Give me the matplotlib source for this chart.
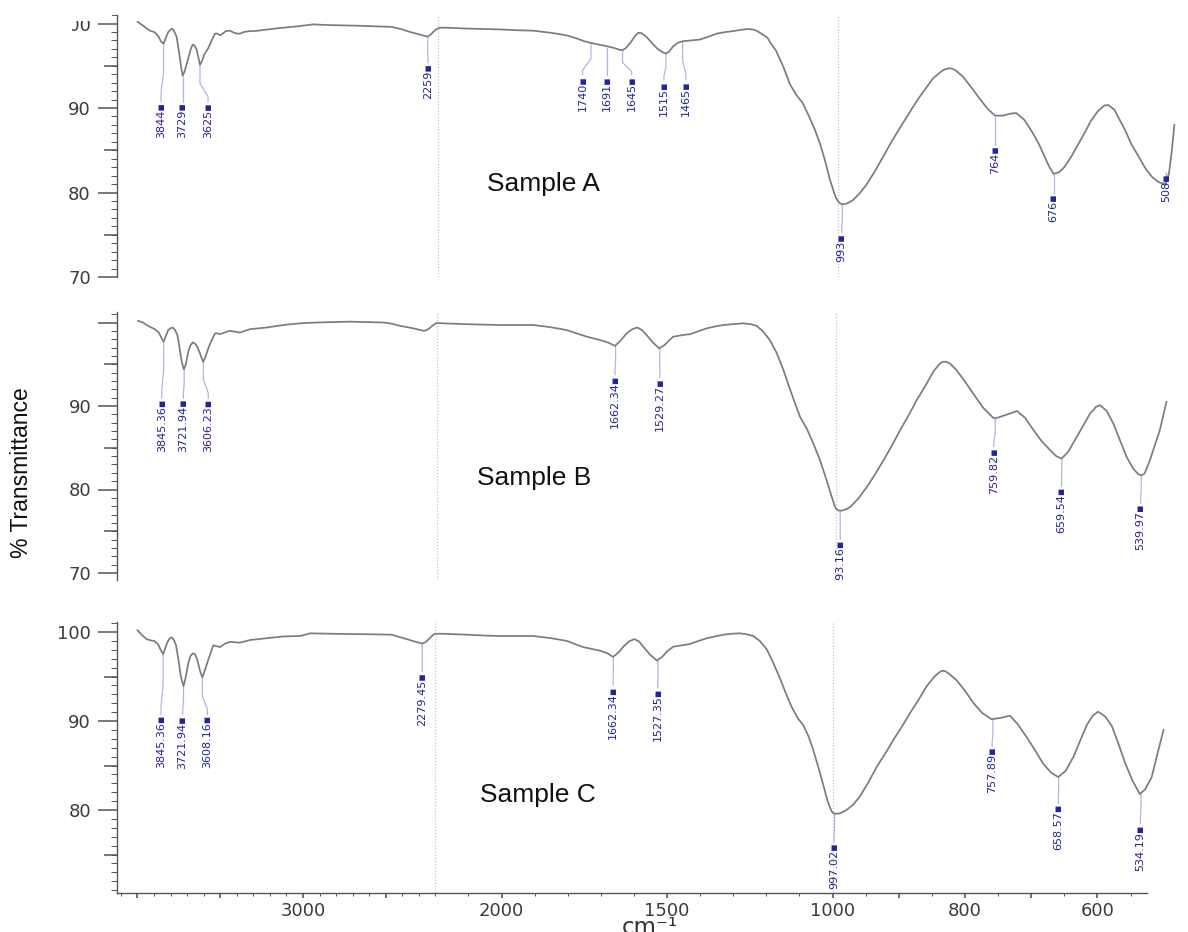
import numpy as np
import matplotlib
matplotlib.use("Agg")
import matplotlib.pyplot as plt
from matplotlib.ticker import FixedLocator, FixedFormatter, MultipleLocator, NullFormatter
from matplotlib.patches import Rectangle

# ---------------- spectra (wavenumber cm-1, %T) ----------------
wn_a = [4000, 3970, 3945, 3920, 3900, 3875, 3860, 3844, 3830, 3815, 3800, 3791, 3778, 3765,
        3750, 3738, 3729, 3718, 3705, 3695, 3680, 3669, 3658, 3645, 3635, 3625, 3612, 3600,
        3588, 3575, 3555, 3535, 3520, 3505, 3490, 3470, 3445, 3420, 3400, 3385, 3360, 3325,
        3300, 3260, 3225, 3175, 3125, 3075, 3025, 2985, 2945, 2900, 2825, 2700, 2625, 2550,
        2475, 2420, 2365, 2310, 2280, 2259, 2240, 2226, 2210, 2193, 2170, 2113, 2060, 2013,
        1960, 1913, 1860, 1813, 1780, 1760, 1740, 1715, 1691, 1670, 1655, 1645, 1635, 1620,
        1608, 1598, 1588, 1573, 1555, 1540, 1525, 1515, 1505, 1493, 1480, 1465, 1440, 1413,
        1390, 1363, 1335, 1313, 1290, 1270, 1255, 1243, 1225, 1210, 1203, 1185, 1163, 1143,
        1123, 1105, 1088, 1070, 1053, 1038, 1023, 1010, 1003, 997, 993, 988, 982, 977, 967,
        957, 945, 932, 920, 907, 895, 882, 870, 857, 845, 840, 834, 828, 823, 812, 800, 787,
        775, 764, 752, 740, 732, 720, 707, 698, 690, 683, 676, 668, 660, 650, 640, 630, 620,
        610, 600, 594, 585, 577, 569, 560, 549, 538, 528, 518, 508, 503, 499, 495]
tr_a = [100.2, 99.8, 99.4, 99.1, 99.0, 98.5, 97.9, 97.6, 98.3, 99.0, 99.3, 99.4, 99.0, 98.4,
        96.5, 94.8, 93.8, 94.3, 95.2, 95.9, 97.0, 97.5, 97.4, 96.9, 96.0, 95.1, 95.6, 96.3,
        96.7, 97.1, 98.0, 98.8, 98.8, 98.6, 98.8, 99.1, 99.15, 98.9, 98.8, 98.8, 99.0, 99.1,
        99.1, 99.2, 99.3, 99.4, 99.5, 99.6, 99.7, 99.8, 99.9, 99.85, 99.8, 99.75, 99.7, 99.65,
        99.6, 99.35, 99.0, 98.7, 98.55, 98.45, 98.7, 99.0, 99.3, 99.5, 99.5, 99.4, 99.35, 99.3,
        99.2, 99.15, 98.9, 98.6, 98.2, 97.9, 97.7, 97.5, 97.3, 97.1, 96.9, 96.85, 97.1, 97.8,
        98.5, 98.9, 98.85, 98.4, 97.6, 97.0, 96.6, 96.45, 96.7, 97.3, 97.7, 97.9, 98.0, 98.1,
        98.4, 98.8, 99.0, 99.1, 99.25, 99.35, 99.3, 99.15, 98.7, 98.3, 97.8, 96.8, 94.9, 92.8,
        91.5, 90.6, 89.2, 87.6, 85.8, 83.8, 81.5, 79.9, 79.2, 78.75, 78.6, 78.65, 78.85, 79.1, 79.9,
        80.9, 82.4, 84.2, 85.9, 87.6, 89.1, 90.75, 92.1, 93.5, 94.3, 94.55, 94.7, 94.65, 94.45, 93.7, 92.5, 91.1,
        89.9, 89.1, 89.1, 89.35, 89.4, 88.6, 87.0, 85.7, 84.3, 83.1, 82.2, 82.4, 83.0, 84.2, 85.6, 87.0, 88.5,
        89.6, 90.3, 90.35, 89.8, 88.6, 87.4, 85.8, 84.3, 82.8, 81.8, 81.2, 81.0, 82.3, 84.8, 88.0]

wn_b = [4000, 3970, 3948, 3920, 3898, 3875, 3860, 3846, 3832, 3818, 3805, 3791, 3777, 3763,
        3750, 3738, 3724, 3712, 3697, 3684, 3671, 3658, 3643, 3625, 3608, 3595, 3577, 3556,
        3536, 3520, 3506, 3480, 3446, 3415, 3386, 3355, 3326, 3275, 3225, 3175, 3125, 3075,
        3025, 2924, 2824, 2724, 2623, 2523, 2470, 2423, 2380, 2343, 2300, 2278, 2260, 2240,
        2222, 2202, 2181, 2111, 2060, 2010, 1960, 1910, 1860, 1810, 1780, 1749, 1709, 1685,
        1664, 1648, 1629, 1612, 1597, 1583, 1569, 1550, 1531, 1515, 1500, 1489, 1460, 1438,
        1410, 1388, 1360, 1338, 1310, 1278, 1255, 1238, 1220, 1198, 1178, 1157, 1140, 1122,
        1107, 1087, 1067, 1047, 1027, 1017, 1005, 1000, 996, 993, 989, 984, 978, 966, 953,
        940, 928, 915, 903, 890, 878, 865, 853, 845, 841, 838, 834, 828, 818, 806, 793, 778,
        763, 760, 745, 727, 715, 702, 690, 677, 668, 660, 650, 637, 627, 617, 608, 602, 592,
        582, 572, 562, 552, 544, 540, 535, 527, 520, 512, 502]
tr_b = [100.2, 100.0, 99.7, 99.4, 99.2, 98.8, 98.2, 97.7, 98.4, 99.1, 99.3, 99.4, 99.1, 98.5,
        97.0, 95.4, 94.4, 95.0, 96.5, 97.3, 97.6, 97.5, 97.1, 96.2, 95.3, 95.8, 96.9, 97.9,
        98.7, 98.7, 98.6, 98.8, 99.0, 98.9, 98.8, 99.0, 99.2, 99.3, 99.4, 99.55, 99.7, 99.8,
        99.9, 100.0, 100.05, 100.1, 100.05, 100.0, 99.85, 99.6, 99.45, 99.3, 99.1, 99.0, 99.1, 99.4,
        99.7, 99.95, 99.9, 99.8, 99.75, 99.7, 99.7, 99.7, 99.45, 99.1, 98.7, 98.3, 97.9, 97.6,
        97.2, 97.8, 98.7, 99.2, 99.4, 99.1, 98.5, 97.6, 96.9, 97.3, 97.9, 98.3, 98.5, 98.6,
        99.0, 99.3, 99.55, 99.7, 99.8, 99.9, 99.8, 99.6, 99.0, 97.9, 96.4, 94.3, 92.3, 90.3,
        88.7, 87.3, 85.5, 83.5, 81.1, 79.8, 78.3, 77.75, 77.5, 77.45, 77.5, 77.65, 77.9, 78.9, 80.3,
        81.9, 83.5, 85.3, 87.1, 88.9, 90.7, 92.4, 94.1, 94.9, 95.2, 95.3, 95.3, 95.1, 94.3, 93.0, 91.5, 89.8,
        88.6, 88.5, 88.9, 89.4, 88.6, 87.1, 85.8, 84.7, 84.0, 83.7, 84.5, 86.3, 87.7, 89.1, 89.9, 90.1, 89.4,
        87.9, 85.9, 83.9, 82.5, 81.8, 81.7, 81.9, 83.5, 85.2, 87.1, 90.5]

wn_c = [4000, 3970, 3944, 3920, 3900, 3875, 3860, 3845, 3832, 3818, 3805, 3793, 3780, 3767,
        3752, 3738, 3722, 3710, 3693, 3680, 3666, 3652, 3639, 3622, 3608, 3595, 3572, 3555,
        3542, 3520, 3502, 3470, 3441, 3410, 3381, 3350, 3320, 3270, 3219, 3170, 3119, 3070,
        3018, 2985, 2958, 2900, 2817, 2715, 2615, 2540, 2464, 2420, 2373, 2330, 2300, 2280,
        2260, 2240, 2213, 2202, 2176, 2105, 2050, 2005, 1950, 1904, 1850, 1803, 1775, 1753,
        1703, 1680, 1663, 1647, 1632, 1615, 1599, 1585, 1572, 1550, 1531, 1515, 1498, 1481,
        1455, 1431, 1405, 1380, 1355, 1330, 1305, 1280, 1260, 1240, 1220, 1199, 1180, 1159,
        1140, 1124, 1105, 1089, 1073, 1058, 1043, 1028, 1015, 1008, 1003, 999, 997, 993, 989,
        984, 979, 969, 959, 946, 933, 920, 908, 895, 883, 870, 858, 846, 840, 835, 830, 824,
        813, 800, 787, 774, 760, 746, 732, 720, 707, 694, 682, 670, 659, 648, 636, 626, 616,
        607, 599, 588, 578, 568, 558, 547, 536, 528, 518, 508, 500]
tr_c = [100.2, 99.6, 99.2, 99.05, 99.0, 98.6, 98.0, 97.5, 98.2, 98.9, 99.3, 99.4, 99.1, 98.5,
        96.8, 95.0, 93.9, 94.8, 96.5, 97.3, 97.6, 97.5, 96.9, 95.6, 94.9, 95.6, 96.9, 97.8,
        98.5, 98.4, 98.3, 98.7, 98.9, 98.85, 98.8, 98.95, 99.1, 99.2, 99.3, 99.4, 99.5, 99.52,
        99.55, 99.7, 99.85, 99.83, 99.8, 99.78, 99.75, 99.72, 99.7, 99.45, 99.2, 98.95, 98.8, 98.7,
        98.85, 99.2, 99.7, 99.8, 99.8, 99.7, 99.6, 99.55, 99.55, 99.55, 99.3, 99.0, 98.6, 98.3,
        97.9, 97.6, 97.2, 97.7, 98.35, 98.95, 99.2, 98.95, 98.35, 97.4, 96.8, 97.2, 97.9, 98.35,
        98.5, 98.65, 99.0, 99.3, 99.5, 99.7, 99.8, 99.85, 99.75, 99.55, 99.0, 98.05, 96.6, 94.8,
        93.0, 91.6, 90.3, 89.55, 88.3, 86.7, 84.8, 82.8, 81.0, 80.3, 79.85, 79.65, 79.6, 79.58, 79.62,
        79.8, 80.0, 80.6, 81.5, 83.1, 84.9, 86.4, 87.9, 89.4, 90.9, 92.4, 93.9, 95.0, 95.4, 95.65, 95.6, 95.3,
        94.6, 93.4, 92.0, 90.9, 90.2, 90.35, 90.6, 89.6, 88.2, 86.7, 85.2, 84.2, 83.7, 84.4, 86.0, 87.8, 89.55,
        90.6, 91.05, 90.5, 89.4, 87.4, 85.25, 83.3, 81.8, 82.3, 83.7, 86.7, 89.0]

# ---------------- peak labels ----------------
peaks_a = ["3844", "3729", "3625", "2259", "1740", "1691", "1645", "1515", "1465",
           "993", "764", "676", "508"]
peaks_b = ["3845.36", "3721.94", "3606.23", "1662.34", "1529.27", "993.16",
           "759.82", "659.54", "539.97"]
peaks_c = ["3845.36", "3721.94", "3608.16", "2279.45", "1662.34", "1527.35",
           "997.02", "757.89", "658.57", "534.19"]

samples = ["Sample A", "Sample B", "Sample C"]

# where each peak label sits: (wavenumber of label centre, %T of label top)
place_a = [(3859, 90.7), (3729, 90.7), (3577, 90.7), (2257, 95.3), (1765, 93.9),
           (1691, 93.9), (1618, 93.9), (1521, 93.3), (1455, 93.3), (994, 75.2),
           (764, 85.6), (676, 79.9), (507, 82.3)]
place_b = [(3857, 90.9), (3727, 90.9), (3577, 90.9), (1664, 93.7), (1529, 93.4),
           (993, 74.0), (762, 85.1), (660, 80.3), (541, 78.3)]
place_c = [(3858, 90.67), (3727, 90.67), (3578, 90.67), (2279, 95.5), (1663, 94.0),
           (1528, 93.7), (998, 76.4), (759, 87.1), (659, 80.7), (535, 78.4)]

# ---------------- x scale: 1x above 2200, 2x to 1000, 4x below ----------------
WP = np.array([0.0, 1000.0, 2200.0, 20000.0])
VP = np.array([0.0, 4000.0, 6400.0, 24200.0])


def fwd(w):
    return np.interp(np.asarray(w, dtype=float), WP, VP)


def inv(v):
    return np.interp(np.asarray(v, dtype=float), VP, WP)


W, H = 1188, 932
XL, XR = 4124, 480

fig = plt.figure(figsize=(W / 100, H / 100), dpi=100)
fig.patch.set_facecolor("white")

# panel geometry in pixels: x of 4000, px per scaled unit, top, bottom, y of 90, px per %T
geo = [
    dict(x0=137.5, k=0.1667, top=15, bot=277, y90=108, s=8.45),
    dict(x0=138.0, k=0.1661, top=312, bot=580, y90=406, s=8.35),
    dict(x0=137.5, k=0.1655, top=622, bot=893, y90=721, s=8.9),
]
label_pos = [(543.3, 190.7), (534.2, 485.0), (538.3, 802.3)]
ytick_sets = [([70, 80, 90, 100], ["70", "80", "90", "100"]),
              ([70, 80, 90, 100], ["70", "80", "90", ""]),
              ([80, 90, 100], ["80", "90", "100"])]

series = [(wn_a, tr_a, peaks_a, place_a),
          (wn_b, tr_b, peaks_b, place_b),
          (wn_c, tr_c, peaks_c, place_c)]

AX_COL = "#555555"
TXT_COL = "#3c3c3c"
LAB_COL = "#22229a"
LEAD_COL = "#b4b4e4"

for i, (g, (wn, tr, pk, pl)) in enumerate(zip(geo, series)):
    left = g["x0"] - (fwd(XL) - fwd(4000)) * g["k"]
    right = g["x0"] + (fwd(4000) - fwd(XR)) * g["k"]
    ax = fig.add_axes([left / W, 1 - g["bot"] / H, (right - left) / W, (g["bot"] - g["top"]) / H])
    ax.set_xscale("function", functions=(fwd, inv))
    ax.set_xlim(XL, XR)
    ylo = 90 - (g["bot"] - g["y90"]) / g["s"]
    yhi = 90 + (g["y90"] - g["top"]) / g["s"]
    ax.set_ylim(ylo, yhi)
    ax.patch.set_alpha(0)

    for sp in ("top", "right"):
        ax.spines[sp].set_visible(False)
    ax.spines["left"].set_color(AX_COL)
    ax.spines["left"].set_linewidth(1.0)

    # scale-change markers
    for xb in (2200, 1000):
        ax.axvline(xb, color="#c4c4c4", lw=0.9, ls=(0, (1, 1.5)), zorder=1)

    # spectrum
    ax.plot(wn, tr, color="#7c7c7c", lw=1.25, zorder=3, solid_joinstyle="round")

    # peak labels with leader lines
    w_inc = np.array(wn[::-1], dtype=float)
    t_inc = np.array(tr[::-1], dtype=float)
    for txt, (lw_, top) in zip(pk, pl):
        pw = float(txt)
        pT = float(np.interp(pw, w_inc, t_inc))
        d = pT - top
        xs = [pw, pw, lw_, lw_]
        ys = [pT - 0.15, pT - 0.5 * d, top + 0.15 * d, top + 0.05]
        ax.plot(xs, ys, color=LEAD_COL, lw=0.9, zorder=2)
        ax.text(lw_, top, txt + "\u25aa", rotation=90, ha="center", va="top",
                fontsize=8, color=LAB_COL, family="DejaVu Sans", zorder=4, clip_on=True)

    # y ticks
    yt, yl = ytick_sets[i]
    ax.yaxis.set_major_locator(FixedLocator(yt))
    ax.yaxis.set_major_formatter(FixedFormatter(yl))
    ax.yaxis.set_minor_locator(MultipleLocator(1))
    ax.yaxis.set_minor_formatter(NullFormatter())
    ax.tick_params(axis="y", which="major", direction="out", length=13.7, width=1.1,
                   color=AX_COL, pad=5, labelsize=13, labelcolor=TXT_COL)
    ax.tick_params(axis="y", which="minor", direction="out", length=4.3, width=0.7,
                   color=AX_COL)
    axw = right - left
    for yv in (75, 85, 95):
        if ylo <= yv <= yhi:
            ax.plot([-13.0 / axw, 0], [yv, yv], transform=ax.get_yaxis_transform(),
                    color=AX_COL, lw=1.1, clip_on=False, solid_capstyle="butt")

    if i < 2:
        ax.spines["bottom"].set_visible(False)
        ax.set_xticks([])
        ax.xaxis.set_minor_locator(FixedLocator([]))
    else:
        ax.spines["bottom"].set_color(AX_COL)
        ax.spines["bottom"].set_linewidth(1.0)
        ax.spines["bottom"].set_bounds(525, XL)
        xt = [4000, 3500, 3000, 2500, 2000, 1500, 1000, 900, 800, 700, 600]
        xtl = ["", "", "3000", "", "2000", "1500", "1000", "", "800", "", "600"]
        ax.xaxis.set_major_locator(FixedLocator(xt))
        ax.xaxis.set_major_formatter(FixedFormatter(xtl))
        minor = list(np.arange(4100, 1000, -100)) + list(np.arange(1000, 525, -50))
        ax.xaxis.set_minor_locator(FixedLocator(minor))
        ax.xaxis.set_minor_formatter(NullFormatter())
        ax.tick_params(axis="x", which="major", direction="out", length=3.8, width=1.2,
                       color=AX_COL, pad=2.5, labelsize=13, labelcolor=TXT_COL)
        ax.tick_params(axis="x", which="minor", direction="out", length=2.2, width=0.7,
                       color=AX_COL)

    lx, ly = label_pos[i]
    fig.text(lx / W, 1 - ly / H, samples[i], ha="center", va="baseline",
             fontsize=19, family="Liberation Sans", color="#111111")

fig.text(22 / W, 1 - 473 / H, "% Transmittance", rotation=90, ha="center", va="center",
         fontsize=16.5, family="Liberation Sans", color="#111111")
fig.text(650 / W, 1 - 934 / H, "cm\u207b\u00b9", ha="center", va="baseline",
         fontsize=16.5, family="DejaVu Sans", color="#333333")

# the top edge of the sheet hides part of the uppermost tick label
fig.add_artist(Rectangle((0, 1 - 21 / H), 112 / W, 21 / H, transform=fig.transFigure,
                         facecolor="white", edgecolor="none", zorder=20))
fig.add_artist(Rectangle((0, 1 - 35 / H), 72 / W, 35 / H, transform=fig.transFigure,
                         facecolor="white", edgecolor="none", zorder=20))

fig.savefig("out.png", dpi=100, facecolor="white")
